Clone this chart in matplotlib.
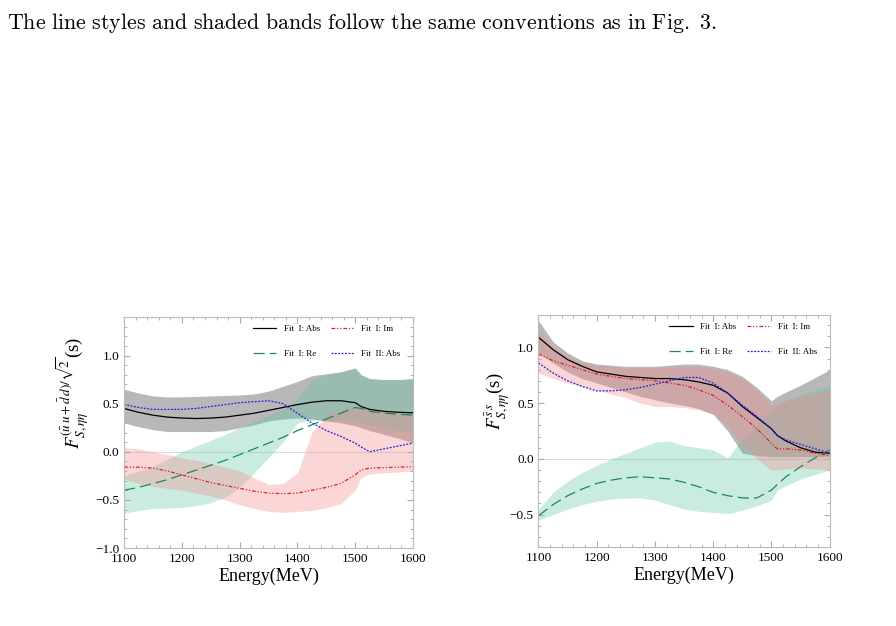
import matplotlib.pyplot as plt
from matplotlib.ticker import MultipleLocator

plt.rcParams['font.family'] = ['Liberation Serif', 'DejaVu Serif']
plt.rcParams['mathtext.fontset'] = 'stix'

# energies (MeV), shared by every series in both panels
energy = [1100, 1125, 1150, 1175, 1200, 1225, 1250, 1275, 1300, 1325, 1350,
          1375, 1400, 1425, 1450, 1475, 1500, 1510, 1525, 1550, 1575, 1600]

# ---- left panel: (uu+dd)/sqrt2 ----
L_abs1 = [.45, .41, .38, .36, .35, .345, .35, .36, .38, .40, .43,
          .46, .49, .515, .53, .53, .51, .47, .44, .42, .41, .405]
L_abs1_hi = [.65, .61, .58, .57, .57, .575, .58, .585, .59, .60, .63,
             .68, .73, .79, .81, .83, .87, .80, .76, .75, .75, .76]
L_abs1_lo = [.30, .26, .23, .21, .21, .21, .21, .22, .25, .28, .32,
             .34, .35, .34, .32, .30, .27, .25, .22, .18, .14, .09]
L_re1 = [-.40, -.37, -.33, -.29, -.24, -.19, -.14, -.09, -.03, .03, .09,
         .15, .22, .28, .34, .40, .46, .45, .42, .40, .39, .38]
L_re1_hi = [-.25, -.20, -.15, -.08, 0.0, .06, .12, .18, .25, .31, .38,
            .44, .55, .75, .80, .83, .87, .80, .76, .75, .75, .76]
L_re1_lo = [-.64, -.61, -.59, -.585, -.58, -.56, -.53, -.47, -.37, -.22, -.06,
            .10, .30, .33, .32, .32, .33, .30, .28, .25, .22, .20]
L_im1 = [-.16, -.16, -.17, -.20, -.24, -.28, -.32, -.35, -.38, -.41, -.43,
         -.435, -.43, -.40, -.37, -.33, -.24, -.19, -.17, -.165, -.16, -.155]
L_im1_hi = [.04, .03, .0, -.03, -.06, -.09, -.12, -.16, -.20, -.27, -.34,
            -.33, -.22, .20, .38, .44, .46, .46, .45, .43, .42, .40]
L_im1_lo = [-.28, -.33, -.36, -.38, -.40, -.43, -.46, -.50, -.55, -.59, -.62,
            -.63, -.62, -.61, -.58, -.54, -.40, -.27, -.23, -.22, -.21, -.20]
L_abs2 = [.49, .46, .44, .44, .44, .45, .47, .49, .51, .52, .53,
          .50, .40, .30, .22, .16, .09, .05, .0, .03, .06, .09]

# ---- right panel: ss ----
R_abs1 = [1.09, .98, .89, .83, .78, .76, .74, .73, .72, .72, .71,
          .69, .66, .59, .47, .37, .27, .21, .16, .10, .06, .05]
R_abs1_hi = [1.24, 1.05, .95, .88, .85, .84, .83, .83, .83, .84, .85,
             .85, .83, .80, .74, .64, .52, .56, .60, .66, .73, .80]
R_abs1_lo = [.95, .86, .78, .72, .68, .64, .60, .56, .53, .50, .48,
             .45, .40, .25, .05, .03, .02, .02, .02, .02, .02, .02]
R_im1 = [.94, .88, .84, .80, .76, .74, .72, .71, .70, .68, .66,
         .62, .57, .48, .38, .27, .14, .09, .09, .08, .05, .03]
R_im1_hi = [1.15, 1.0, .92, .86, .84, .83, .82, .82, .82, .82, .83,
            .83, .81, .78, .72, .62, .48, .50, .53, .56, .59, .62]
R_im1_lo = [.77, .72, .68, .65, .62, .58, .55, .50, .47, .47, .46,
            .44, .40, .30, .12, .0, -.10, -.10, -.09, -.08, -.09, -.10]
R_abs2 = [.86, .77, .70, .65, .61, .61, .62, .64, .67, .70, .73,
          .73, .68, .59, .48, .38, .27, .21, .17, .13, .09, .05]
R_re1 = [-.51, -.41, -.33, -.27, -.22, -.19, -.17, -.16, -.17, -.18, -.21,
         -.25, -.30, -.33, -.35, -.35, -.28, -.23, -.16, -.07, .01, .08]
R_re1_hi = [-.45, -.30, -.20, -.12, -.06, .0, .05, .10, .15, .16, .12,
            .10, .08, .01, .18, .30, .45, .48, .52, .57, .62, .66]
R_re1_lo = [-.55, -.50, -.45, -.41, -.38, -.36, -.35, -.35, -.37, -.41, -.45,
            -.47, -.48, -.49, -.46, -.42, -.37, -.28, -.24, -.18, -.14, -.10]

labels = ['Fit  I: Abs', 'Fit  I: Re', 'Fit  I: Im', 'Fit  II: Abs']


def panel(ax, abs1, abs1_hi, abs1_lo, re1, re1_hi, re1_lo,
          im1, im1_hi, im1_lo, abs2, ylim):
    ax.fill_between(energy, abs1_lo, abs1_hi, color='#7f7f7f', alpha=0.55, lw=0)
    ax.fill_between(energy, re1_lo, re1_hi, color='#5cc2a0', alpha=0.32, lw=0)
    ax.fill_between(energy, im1_lo, im1_hi, color='#f58a8a', alpha=0.35, lw=0)
    ax.axhline(0, color='#dddddd', lw=0.8, zorder=0)
    l1, = ax.plot(energy, abs1, color='black', lw=0.9)
    l2, = ax.plot(energy, re1, color='#1a8a5a', lw=0.9, ls=(0, (9, 4)))
    l3, = ax.plot(energy, im1, color='#e02020', lw=0.9,
                  ls=(0, (3, 1.5, 1, 1.5, 1, 1.5)))
    l4, = ax.plot(energy, abs2, color='#2020e0', lw=0.9, ls=(0, (1.5, 1.2)))
    ax.set_xlim(1100, 1600)
    ax.set_ylim(*ylim)
    ax.xaxis.set_major_locator(MultipleLocator(100))
    ax.xaxis.set_minor_locator(MultipleLocator(20))
    ax.yaxis.set_major_locator(MultipleLocator(0.5))
    ax.yaxis.set_minor_locator(MultipleLocator(0.1))
    ax.tick_params(which='both', direction='in', color='#aaaaaa',
                   labelsize=9.5, top=True, right=True)
    ax.tick_params(which='major', length=4)
    ax.tick_params(which='minor', length=2)
    for s in ax.spines.values():
        s.set_color('#bbbbbb')
        s.set_linewidth(0.8)
    ax.set_xlabel('Energy(MeV)', fontsize=13, labelpad=2)
    ax.legend([l1, l2, l3, l4], labels, ncol=2, loc='upper right',
              bbox_to_anchor=(0.985, 1.0), frameon=False, fontsize=6.5,
              labelspacing=1.8, handlelength=2.6, columnspacing=1.2)


fig = plt.figure(figsize=(8.96, 6.26), dpi=100)
axL = fig.add_axes([0.1384, 0.1246, 0.3226, 0.369])
axR = fig.add_axes([0.601, 0.1262, 0.325, 0.3706])

panel(axL, L_abs1, L_abs1_hi, L_abs1_lo, L_re1, L_re1_hi, L_re1_lo,
      L_im1, L_im1_hi, L_im1_lo, L_abs2, (-1.0, 1.4))
panel(axR, R_abs1, R_abs1_hi, R_abs1_lo, R_re1, R_re1_hi, R_re1_lo,
      R_im1, R_im1_hi, R_im1_lo, R_abs2, (-0.79, 1.29))

axL.set_ylabel(r'$F^{(\bar{u}\,u+\bar{d}\,d)/\sqrt{2}}_{S,\eta\eta}$(s)', fontsize=13.5)
axL.yaxis.set_label_coords(-0.115, 0.67)
axR.set_ylabel(r'$F^{\bar{s}\,s}_{S,\eta\eta}$(s)', fontsize=13.5)
axR.yaxis.set_label_coords(-0.09, 0.63)

fig.text(0.008, 0.963,
         r'$\mathrm{The\ line\ styles\ and\ shaded\ bands\ follow\ the\ same\ conventions\ as\ in\ Fig.\ 3.}$',
         fontsize=15.8, math_fontfamily='cm', va='center')

fig.savefig('out.png', dpi=100)
